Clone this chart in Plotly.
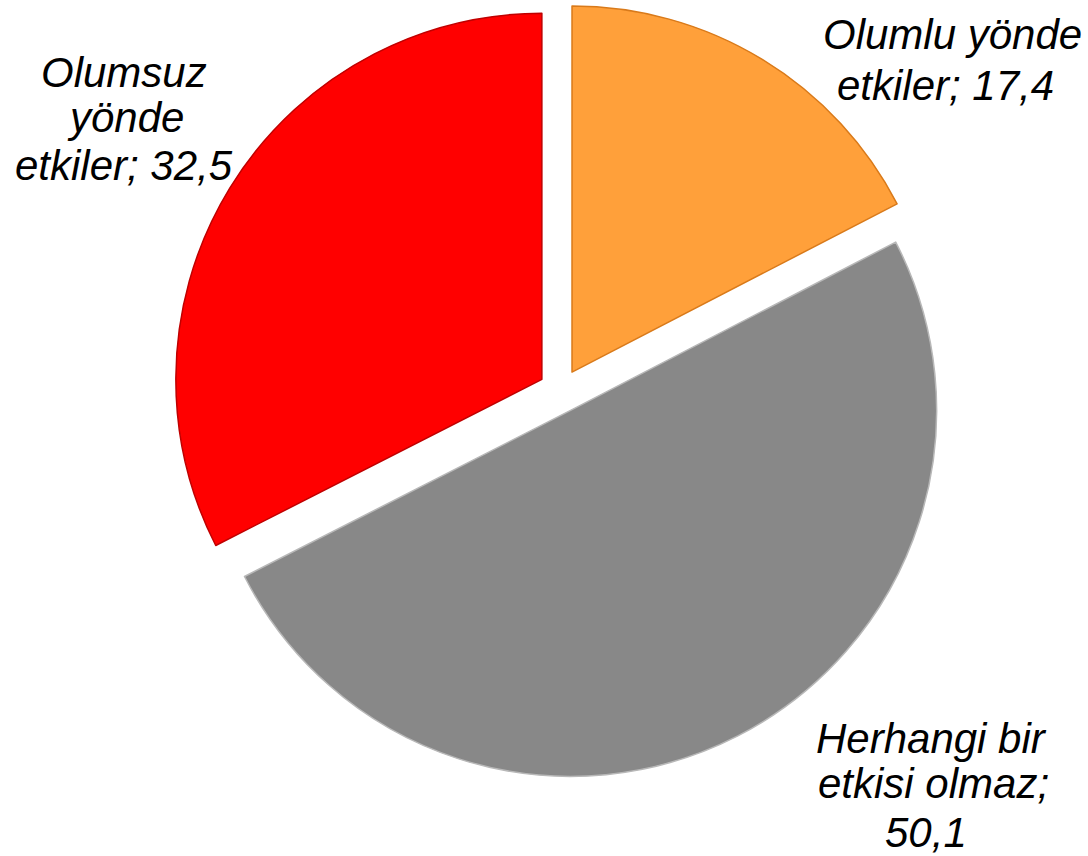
import plotly.graph_objects as go

# Survey shares (percent), clockwise from 12 o'clock
labels = ["Olumlu yönde etkiler", "Herhangi bir etkisi olmaz", "Olumsuz yönde etkiler"]
values = [17.4, 50.1, 32.5]
colors = ["#FFA03A", "#888888", "#FF0000"]
edge_colors = ["#D97A1A", "#B8B8B8", "#C00000"]


def fmt(v):
    return f"{v:.1f}".replace(".", ",")


W, H = 1088, 856

fig = go.Figure(
    go.Pie(
        labels=labels,
        values=values,
        sort=False,
        direction="clockwise",
        rotation=0,
        pull=[0.06, 0.06, 0.06],
        marker=dict(colors=colors, line=dict(color=edge_colors, width=1.5)),
        textinfo="none",
        hoverinfo="label+value",
        showlegend=False,
        domain=dict(x=[0.1586, 0.8719], y=[0.0902, 0.9967]),
    )
)

# Outside labels, one annotation per text line (centre x, baseline y in px)
label_lines = [
    [("Olumlu yönde", 952, 49), (f"etkiler; {fmt(values[0])}", 945, 100)],
    [("Herhangi bir", 931, 753), ("etkisi olmaz;", 933, 798), (fmt(values[1]), 926, 847)],
    [("Olumsuz", 124, 87), ("yönde", 125, 133), (f"etkiler; {fmt(values[2])}", 124, 180)],
]

font = dict(family="Liberation Sans, Arial, sans-serif", size=42, color="#000000")
for group in label_lines:
    for text, px, base in group:
        fig.add_annotation(
            text=f"<i>{text}</i>",
            x=px / W,
            y=1 - (base - 15) / H,
            xref="paper",
            yref="paper",
            xanchor="center",
            yanchor="middle",
            showarrow=False,
            font=font,
        )

fig.update_layout(
    width=W,
    height=H,
    margin=dict(l=0, r=0, t=0, b=0),
    paper_bgcolor="white",
    plot_bgcolor="white",
)

fig.write_html("out.html")
